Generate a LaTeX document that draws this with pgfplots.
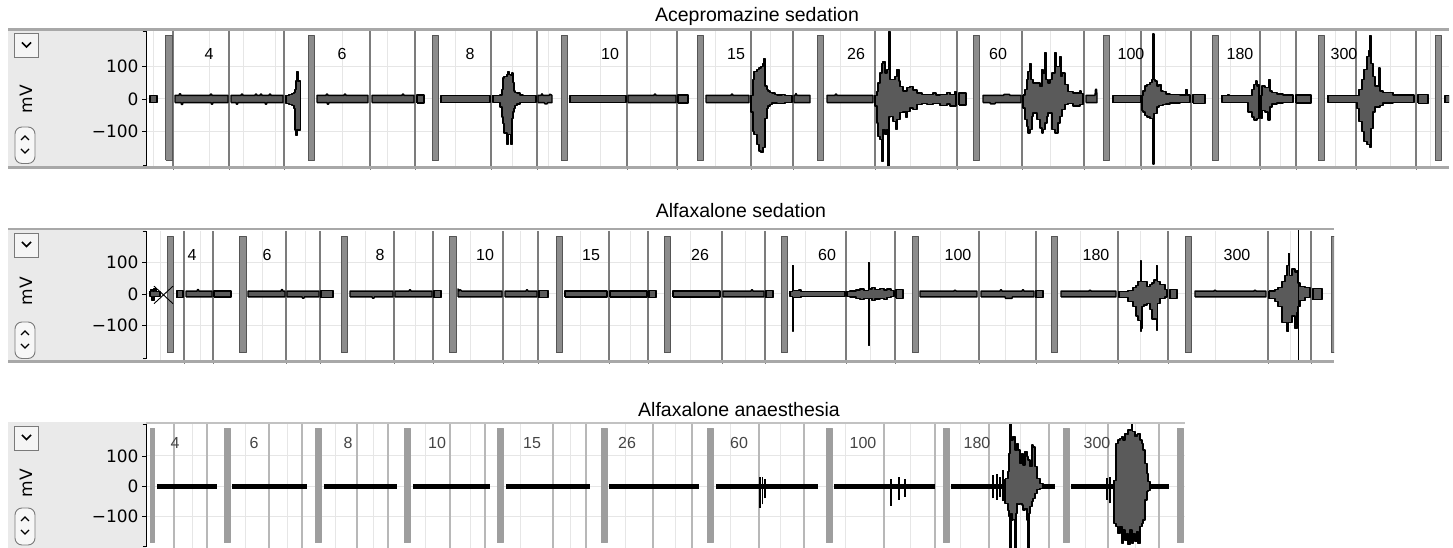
\documentclass[border=0pt]{standalone}
\usepackage{fontspec}
\setmainfont{Liberation Sans}
\newfontfamily\dejavu{DejaVu Sans}
\usepackage{pgfplots}
\pgfplotsset{compat=1.18}
\definecolor{boxgray}{HTML}{EAEAEA}
\definecolor{framegray}{HTML}{A8A8A8}
\definecolor{sepgray}{HTML}{7C7C7C}
\definecolor{sepgrayb}{HTML}{B8B8B8}
\definecolor{gridlight}{HTML}{E6E6E6}
\definecolor{bargray}{HTML}{8C8C8C}
\definecolor{bardark}{HTML}{555555}
\definecolor{barlight}{HTML}{9E9E9E}
\definecolor{tracefill}{HTML}{5A5A5A}
\definecolor{btnedge}{HTML}{7A7A7A}
\definecolor{labgray}{HTML}{444444}

\pgfplotsset{
  emg/.style={
    scale only axis, anchor=south west,
    axis line style={draw=none},
    tick align=outside, xtick pos=lower, ytick pos=left,
    major tick length=4pt,
    ytick={-100,0,100}, yticklabels={−100,0,100},
    yticklabel style={font=\dejavu\fontsize{17}{17}\selectfont, text=black},
    xticklabels={}, xtick style={draw=none},
    ytick style={black, line width=0.9pt},
    xmajorgrids=true, ymajorgrids=true,
    major grid style={gridlight, line width=1pt},
    extra x tick labels={},
    extra x tick style={grid=major, major grid style={sepgray, line width=1.3pt},
      xtick style={draw=sepgray, line width=1pt}},
    every axis plot/.append style={mark=none, line join=round},
    clip=true,
  },
  tr/.style={fill=tracefill, draw=black, line width=1.4pt},
  trs/.style={fill=tracefill, draw=black, line width=1.3pt, const plot},
  bar/.style={fill=bargray, draw=bardark, line width=0.8pt},
  barb/.style={fill=barlight, draw=barlight, line width=0.5pt},
  base3/.style={black, line width=4.6pt},
  spk/.style={black, line width=1.2pt},
}

\begin{document}
\begin{tikzpicture}[x=1pt,y=1pt]
\useasboundingbox (0,0) rectangle (1453,548);

% ---------- left control boxes (background) ----------
\begin{scope}[shift={(0,548)},yscale=-1]
  \fill[boxgray] (8,30.5) rectangle (146,166.5);
  \fill[boxgray] (8,230) rectangle (146,360.5);
  \fill[boxgray] (8,422) rectangle (146,548);
\end{scope}

% ================= Panel 1 : Acepromazine sedation =================
\begin{axis}[emg, at={(146pt,382pt)}, width=1303pt, height=135pt,
  xmin=146, xmax=1449, ymin=-206.2, ymax=209.2,
  xtick={153,209,243,275,342,387,455,512,548,600,650,715,770,840,910,940,1000,1050,1125,1165,1230,1280,1335,1390,1430},
  extra x ticks={173,229,284,370,415,491,537,627,677,751,793,875,957,1022,1084,1141,1191,1260,1296,1356,1416}]
% marker bars
\addplot[bar] coordinates {(165.5,-188)(172,-188)(172,195)(165.5,195)(165.5,-188)};
\addplot[bar] coordinates {(308,-188)(314,-188)(314,195)(308,195)(308,-188)};
\addplot[bar] coordinates {(432,-188)(438,-188)(438,195)(432,195)(432,-188)};
\addplot[bar] coordinates {(561,-188)(567.5,-188)(567.5,195)(561,195)(561,-188)};
\addplot[bar] coordinates {(697,-188)(703,-188)(703,195)(697,195)(697,-188)};
\addplot[bar] coordinates {(817,-188)(823,-188)(823,195)(817,195)(817,-188)};
\addplot[bar] coordinates {(973,-188)(979.5,-188)(979.5,195)(973,195)(973,-188)};
\addplot[bar] coordinates {(1103,-188)(1109.5,-188)(1109.5,195)(1103,195)(1103,-188)};
\addplot[bar] coordinates {(1212,-188)(1218,-188)(1218,195)(1212,195)(1212,-188)};
\addplot[bar] coordinates {(1318,-188)(1324.5,-188)(1324.5,195)(1318,195)(1318,-188)};
\addplot[bar] coordinates {(1435,-188)(1441.5,-188)(1441.5,195)(1435,195)(1435,-188)};
% traces
\addplot[tr] coordinates {(150,-11)(157,-11)(157,11)(150,11)(150,-11)};
\addplot[tr] coordinates {(175,-11)(181,-11)(181.5,-17)(182.5,-17)(183,-11)(211,-11)(211.5,-16)(212.5,-16)(213,-11)(228,-11)(228,11)(212,11)(211.5,15)(210.5,15)(210,11)(181,11)(180.5,16)(179.5,16)(179,11)(175,11)(175,-11)};
\addplot[tr] coordinates {(231,-11)(236,-11)(236.5,-16)(237.5,-16)(238,-11)(265,-11)(265.5,-16)(266.5,-16)(267,-11)(283,-11)(283,11)(271,11)(270.5,15)(269.5,15)(269,11)(262,11)(261.5,15)(260.5,15)(260,11)(257,11)(256.5,15)(255.5,15)(255,11)(243,11)(242.5,15)(241.5,15)(241,11)(231,11)(231,-11)};
\addplot[trs] coordinates {(286,11)(289,13)(292,16)(294,20)(295,30)(296,55)(297,84)(298,55)(300.5,55)(300.5,-95)(298,-95)(297,-113)(296,-95)(295,-30)(294,-20)(292,-16)(289,-13)(286,-11)(286,11)};
\addplot[tr] coordinates {(317,-11)(327,-11)(327.5,-16)(328.5,-16)(329,-11)(368,-11)(368,11)(346,11)(345.5,15)(344.5,15)(344,11)(328,11)(327.5,15)(326.5,15)(326,11)(317,11)(317,-11)};
\addplot[tr] coordinates {(372,-11)(414,-11)(414,11)(404,11)(403.5,15)(402.5,15)(402,11)(372,11)(372,-11)};
\addplot[tr] coordinates {(417,-12)(424,-12)(424,12)(417,12)(417,-12)};
\addplot[tr] coordinates {(441,-11)(490,-11)(490,11)(441,11)(441,-11)};
\addplot[trs] coordinates {(493,11)(500,12)(502,30)(503,65)(504,70)(507,75)(508,85)(509,75)(511,72)(512,80)(513,50)(514,25)(515,20)(517,18)(520,12)(523,11)(536,11)(536,-11)(523,-11)(520,-15)(517,-20)(515,-30)(514,-40)(513,-60)(512,-140)(511,-110)(509,-110)(508,-140)(507,-105)(504,-75)(503,-55)(502,-25)(500,-11)(493,-11)(493,11)};
\addplot[tr] coordinates {(538,-11)(544,-11)(545,-15)(547,-15)(548,-11)(552,-11)(552,11)(550,15)(549,11)(543,11)(542,16)(541,11)(538,11)(538,-11)};
\addplot[tr] coordinates {(570,-11)(626,-11)(626,11)(570,11)(570,-11)};
\addplot[tr] coordinates {(628,-11)(676,-11)(676,11)(656,11)(655.5,15)(654.5,15)(654,11)(628,11)(628,-11)};
\addplot[tr] coordinates {(678,-12)(688,-12)(688,12)(678,12)(678,-12)};
\addplot[tr] coordinates {(706,-11)(749,-11)(749,11)(733,11)(732.5,15)(731.5,15)(731,11)(706,11)(706,-11)};
\addplot[trs] coordinates {(751,11)(753,60)(754,85)(757,90)(759,95)(761,100)(763,110)(764,125)(765,40)(767,30)(768,25)(770,20)(772,18)(775,14)(777,12)(782,14)(785,11)(792,11)(792,-11)(785,-13)(777,-12)(772,-18)(770,-22)(768,-30)(767,-60)(765,-150)(763,-165)(761,-160)(759,-140)(757,-110)(754,-100)(753,-40)(751,-11)(751,11)};
\addplot[tr] coordinates {(794,-11)(810,-11)(810,11)(797,11)(796,17)(795,11)(794,11)(794,-11)};
\addplot[tr] coordinates {(827,-11)(873,-11)(873,11)(837,11)(836.5,15)(835.5,15)(835,11)(827,11)(827,-11)};
\addplot[trs] coordinates {(875,11)(877,24)(878,49)(880,80)(882,110)(883,116)(885,80)(887,90)(889,208)(890,60)(893,60)(895,70)(897,90)(899,55)(900,39)(903,25)(907,35)(910,39)(913,28)(917,18)(922,13)(927,13)(933,18)(936,12)(940,13)(947,20)(950,14)(955,23)(956,23)(956,-22)(950,-15)(947,-20)(940,-14)(933,-17)(927,-14)(922,-17)(917,-33)(913,-28)(910,-38)(907,-58)(906,-40)(903,-42)(900,-64)(897,-94)(896,-70)(893,-53)(890,-55)(889,-207)(888,-94)(887,-110)(885,-94)(883,-192)(882,-125)(880,-115)(878,-74)(877,-22)(875,-11)(875,11)};
\addplot[tr] coordinates {(959,-18)(966,-18)(966,18)(959,18)(959,-18)};
\addplot[tr] coordinates {(983,-11)(990,-11)(990.5,-15)(995,-15)(995.5,-11)(1021,-11)(1021,11)(1010,11)(1009.5,14)(1004,14)(1003.5,11)(983,11)(983,-11)};
\addplot[trs] coordinates {(1023,12)(1025,29)(1027,60)(1028,85)(1030,110)(1031,60)(1033,49)(1037,49)(1040,39)(1042,90)(1043,80)(1045,142)(1046,60)(1047,60)(1048,49)(1050,60)(1052,80)(1055,142)(1056,100)(1058,100)(1060,131)(1061,70)(1062,80)(1065,45)(1068,24)(1073,18)(1080,25)(1081,16)(1083,16)(1083,-16)(1080,-22)(1073,-14)(1068,-17)(1065,-33)(1062,-53)(1060,-74)(1058,-105)(1055,-94)(1052,-43)(1048,-53)(1047,-74)(1045,-94)(1043,-105)(1042,-89)(1040,-64)(1037,-43)(1033,-53)(1032,-94)(1030,-105)(1028,-84)(1027,-64)(1025,-28)(1023,-12)(1023,12)};
\addplot[tr] coordinates {(1086,-11)(1097,-11)(1097,11)(1096.5,30)(1095.5,30)(1095,11)(1086,11)(1086,-11)};
\addplot[tr] coordinates {(1113,-11)(1141,-11)(1141,11)(1113,11)(1113,-11)};
\addplot[trs] coordinates {(1142,11)(1143,25)(1145,40)(1147,45)(1150,50)(1152,60)(1153,200)(1154,60)(1155,55)(1157,40)(1159,45)(1161,25)(1163,22)(1166,15)(1170,13)(1180,12)(1186,30)(1187,12)(1190,11)(1190,-11)(1180,-12)(1170,-15)(1166,-18)(1163,-20)(1159,-25)(1157,-45)(1155,-45)(1154,-200)(1153,-60)(1152,-60)(1150,-55)(1147,-50)(1145,-40)(1143,-35)(1142,-11)(1142,11)};
\addplot[tr] coordinates {(1193,-13)(1205,-13)(1205,13)(1193,13)(1193,-13)};
\addplot[trs] coordinates {(1222,11)(1228,14)(1229,11)(1248,11)(1252,30)(1254,45)(1256,55)(1257,40)(1258,45)(1259,45)(1259,-60)(1258,-60)(1257,-65)(1256,-65)(1254,-55)(1252,-40)(1248,-11)(1222,-11)(1222,11)};
\addplot[trs] coordinates {(1261,11)(1262,40)(1265,35)(1268,35)(1269,60)(1270,25)(1272,20)(1277,15)(1283,12)(1293,11)(1293,-11)(1283,-12)(1277,-15)(1272,-25)(1270,-65)(1268,-40)(1265,-35)(1262,-60)(1261,-11)(1261,11)};
\addplot[tr] coordinates {(1296,-12)(1311,-12)(1311,12)(1296,12)(1296,-12)};
\addplot[trs] coordinates {(1328,11)(1357,11)(1359,30)(1362,60)(1364,90)(1367,130)(1369,150)(1370,195)(1371,110)(1373,70)(1375,40)(1379,95)(1380,25)(1383,20)(1393,12)(1414,11)(1414,-11)(1393,-12)(1383,-20)(1380,-25)(1375,-40)(1373,-90)(1371,-150)(1370,-140)(1369,-140)(1367,-130)(1364,-100)(1362,-70)(1359,-30)(1357,-11)(1328,-11)(1328,11)};
\addplot[tr] coordinates {(1418,-13)(1428,-13)(1428,13)(1418,13)(1418,-13)};
\addplot[tr] coordinates {(1445,-11)(1450,-11)(1450,11)(1445,11)(1445,-11)};
% block labels
\node[font=\fontsize{16}{16}\selectfont, inner sep=0pt] at (axis cs:209,138) {4};
\node[font=\fontsize{16}{16}\selectfont, inner sep=0pt] at (axis cs:342,138) {6};
\node[font=\fontsize{16}{16}\selectfont, inner sep=0pt] at (axis cs:470,138) {8};
\node[font=\fontsize{16}{16}\selectfont, inner sep=0pt] at (axis cs:610,138) {10};
\node[font=\fontsize{16}{16}\selectfont, inner sep=0pt] at (axis cs:736,138) {15};
\node[font=\fontsize{16}{16}\selectfont, inner sep=0pt] at (axis cs:856,138) {26};
\node[font=\fontsize{16}{16}\selectfont, inner sep=0pt] at (axis cs:998,138) {60};
\node[font=\fontsize{16}{16}\selectfont, inner sep=0pt] at (axis cs:1131,138) {100};
\node[font=\fontsize{16}{16}\selectfont, inner sep=0pt] at (axis cs:1240,138) {180};
\node[font=\fontsize{16}{16}\selectfont, inner sep=0pt] at (axis cs:1344,138) {300};
\end{axis}

% ================= Panel 2 : Alfaxalone sedation =================
\begin{axis}[emg, at={(146pt,188pt)}, width=1188pt, height=129pt,
  xmin=146, xmax=1334, ymin=-210.9, ymax=201.3,
  xtick={160,200,262,305,365,415,470,520,580,630,690,745,805,870,940,1005,1080,1140,1215,1290},
  extra x ticks={184,213,286,320,394,433,503,538,609,648,722,765,846,895,979,1036,1118,1168,1268,1311}]
\addplot[bar] coordinates {(167,-187)(173,-187)(173,184)(167,184)(167,-187)};
\addplot[bar] coordinates {(239.5,-187)(246,-187)(246,184)(239.5,184)(239.5,-187)};
\addplot[bar] coordinates {(341,-187)(347,-187)(347,184)(341,184)(341,-187)};
\addplot[bar] coordinates {(449.5,-187)(456,-187)(456,184)(449.5,184)(449.5,-187)};
\addplot[bar] coordinates {(556,-187)(562,-187)(562,184)(556,184)(556,-187)};
\addplot[bar] coordinates {(664,-187)(670,-187)(670,184)(664,184)(664,-187)};
\addplot[bar] coordinates {(781.5,-187)(787.5,-187)(787.5,184)(781.5,184)(781.5,-187)};
\addplot[bar] coordinates {(912.5,-187)(918.5,-187)(918.5,184)(912.5,184)(912.5,-187)};
\addplot[bar] coordinates {(1051.5,-187)(1057.5,-187)(1057.5,184)(1051.5,184)(1051.5,-187)};
\addplot[bar] coordinates {(1185,-187)(1191,-187)(1191,184)(1185,184)(1185,-187)};
\addplot[bar] coordinates {(1331,-187)(1337,-187)(1337,184)(1331,184)(1331,-187)};
% traces
\addplot[trs] coordinates {(150,9)(151,15)(153,9)(154,18)(156,9)(160,9)(160,-9)(156,-9)(154,-20)(152,-9)(150,-9)(150,9)};
\addplot[black, line width=0.9pt] coordinates {(154,25)(173,-31)};
\addplot[black, line width=0.9pt] coordinates {(154,-31)(173,25)};
\addplot[tr] coordinates {(177,-12)(183,-12)(183,12)(177,12)(177,-12)};
\addplot[tr] coordinates {(186,-9)(212,-9)(212,9)(199,9)(198.5,14)(197.5,14)(197,9)(186,9)(186,-9)};
\addplot[tr] coordinates {(214,-9)(231,-9)(231,9)(214,9)(214,-9)};
\addplot[tr] coordinates {(248,-9)(285,-9)(285,9)(283,9)(282.5,14)(281.5,14)(281,9)(248,9)(248,-9)};
\addplot[tr] coordinates {(287,-9)(302,-9)(302.5,-13)(304,-13)(304.5,-9)(319,-9)(319,9)(287,9)(287,-9)};
\addplot[tr] coordinates {(321,-12)(333,-12)(333,12)(321,12)(321,-12)};
\addplot[tr] coordinates {(350,-9)(372,-9)(372.5,-13)(374,-13)(374.5,-9)(393,-9)(393,9)(350,9)(350,-9)};
\addplot[tr] coordinates {(395,-9)(432,-9)(432,9)(411,9)(410.5,13)(409.5,13)(409,9)(395,9)(395,-9)};
\addplot[tr] coordinates {(434,-12)(441,-12)(441,12)(434,12)(434,-12)};
\addplot[tr] coordinates {(458,-9)(502,-9)(502,9)(462,9)(460,14)(459,10)(458,16)(458,-9)};
\addplot[tr] coordinates {(505,-9)(537,-9)(537,9)(528,9)(527.5,13)(526.5,13)(526,9)(505,9)(505,-9)};
\addplot[tr] coordinates {(539,-12)(548,-12)(548,12)(539,12)(539,-12)};
\addplot[tr] coordinates {(565,-9)(607,-9)(607,9)(565,9)(565,-9)};
\addplot[tr] coordinates {(610,-9)(647,-9)(647,9)(610,9)(610,-9)};
\addplot[tr] coordinates {(649,-12)(656,-12)(656,12)(649,12)(649,-12)};
\addplot[tr] coordinates {(673,-9)(720,-9)(720,9)(673,9)(673,-9)};
\addplot[tr] coordinates {(723,-9)(764,-9)(764,9)(753,9)(752.5,13)(751.5,13)(751,9)(723,9)(723,-9)};
\addplot[tr] coordinates {(766,-12)(773,-12)(773,12)(766,12)(766,-12)};
\addplot[trs] coordinates {(790,9)(792.5,92)(793.5,12)(799,13)(801,9)(845,9)(845,-9)(801,-12)(793.5,-118)(792.5,-9)(790,-9)(790,9)};
\addplot[trs] coordinates {(847,9)(850,10)(856,13)(860,16)(864,12)(868.5,100)(869.5,16)(872,20)(875,14)(880,18)(884,13)(887,16)(891,11)(894,9)(894,-9)(891,-12)(887,-18)(884,-14)(880,-16)(875,-20)(872,-15)(869.5,-165)(868.5,-15)(864,-18)(860,-14)(856,-10)(850,-9)(847,-9)(847,9)};
\addplot[tr] coordinates {(896,-14)(903,-14)(903,14)(896,14)(896,-14)};
\addplot[tr] coordinates {(920,-9)(977,-9)(977,9)(956,9)(955.5,12)(954.5,12)(954,9)(920,9)(920,-9)};
\addplot[tr] coordinates {(981,-9)(1005,-9)(1005.5,-14)(1012,-14)(1012.5,-9)(1034,-9)(1034,9)(1024,9)(1023.5,13)(1022.5,13)(1022,9)(1002,9)(1001.5,13)(1000.5,13)(1000,9)(981,9)(981,-9)};
\addplot[tr] coordinates {(1036,-12)(1043,-12)(1043,12)(1036,12)(1036,-12)};
\addplot[tr] coordinates {(1061,-9)(1116,-9)(1116,9)(1091,9)(1090.5,12)(1089.5,12)(1089,9)(1061,9)(1061,-9)};
\addplot[trs] coordinates {(1119,9)(1128,12)(1133,20)(1136,28)(1138,40)(1140.5,105)(1141.5,40)(1144,40)(1147,25)(1150,30)(1152,35)(1154,45)(1156.5,90)(1157.5,40)(1160,30)(1165,15)(1167,10)(1167,-10)(1165,-15)(1160,-30)(1157.5,-115)(1156.5,-80)(1154,-80)(1152,-50)(1150,-30)(1147,-35)(1144,-40)(1142,-110)(1141.5,-118)(1140.5,-85)(1138,-70)(1136,-40)(1133,-25)(1128,-12)(1119,-9)(1119,9)};
\addplot[tr] coordinates {(1170,-15)(1177,-15)(1177,15)(1170,15)(1170,-15)};
\addplot[tr] coordinates {(1195,-9)(1266,-9)(1266,9)(1256,9)(1255.5,12)(1254.5,12)(1254,9)(1216,9)(1215.5,12)(1214.5,12)(1214,9)(1195,9)(1195,-9)};
\addplot[trs] coordinates {(1269,10)(1275,15)(1278,20)(1282,40)(1285,60)(1287,90)(1288.5,130)(1289.5,60)(1292,80)(1295,70)(1297,75)(1298,35)(1300,25)(1305,20)(1310,12)(1310,-12)(1305,-20)(1300,-40)(1298,-60)(1297,-110)(1295,-70)(1292,-90)(1289.5,-90)(1288.5,-120)(1287,-90)(1285,-90)(1282,-40)(1278,-25)(1275,-15)(1269,-10)(1269,10)};
\addplot[black, line width=1.1pt] coordinates {(1298.5,-215)(1298.5,215)};
\addplot[tr] coordinates {(1313,-18)(1322,-18)(1322,18)(1313,18)(1313,-18)};
% block labels
\node[font=\fontsize{16}{16}\selectfont, inner sep=0pt] at (axis cs:192,125) {4};
\node[font=\fontsize{16}{16}\selectfont, inner sep=0pt] at (axis cs:267,125) {6};
\node[font=\fontsize{16}{16}\selectfont, inner sep=0pt] at (axis cs:380,125) {8};
\node[font=\fontsize{16}{16}\selectfont, inner sep=0pt] at (axis cs:485,125) {10};
\node[font=\fontsize{16}{16}\selectfont, inner sep=0pt] at (axis cs:591,125) {15};
\node[font=\fontsize{16}{16}\selectfont, inner sep=0pt] at (axis cs:700,125) {26};
\node[font=\fontsize{16}{16}\selectfont, inner sep=0pt] at (axis cs:827,125) {60};
\node[font=\fontsize{16}{16}\selectfont, inner sep=0pt] at (axis cs:958,125) {100};
\node[font=\fontsize{16}{16}\selectfont, inner sep=0pt] at (axis cs:1096,125) {180};
\node[font=\fontsize{16}{16}\selectfont, inner sep=0pt] at (axis cs:1237,125) {300};
\end{axis}

% ================= Panel 3 : Alfaxalone anaesthesia =================
\begin{axis}[emg, at={(146pt,0pt)}, width=1039pt, height=124pt,
  xmin=146, xmax=1185, ymin=-203.6, ymax=205.6,
  xtick={192,245,287,335,373,425,470,520,570,625,675,730,780,845,910,960,1020,1085,1135},
  extra x ticks={174,207,269,302,357,388,450,485,553,586,653,692,759,804,884,935,989,1049,1108,1159},
  extra x tick style={grid=major, major grid style={sepgrayb, line width=1.8pt},
      xtick style={draw=none}}]
\addplot[barb] coordinates {(150,-183)(154.5,-183)(154.5,192)(150,192)(150,-183)};
\addplot[barb] coordinates {(224,-183)(230,-183)(230,192)(224,192)(224,-183)};
\addplot[barb] coordinates {(315,-183)(321,-183)(321,192)(315,192)(315,-183)};
\addplot[barb] coordinates {(404,-183)(410,-183)(410,192)(404,192)(404,-183)};
\addplot[barb] coordinates {(497,-183)(503,-183)(503,192)(497,192)(497,-183)};
\addplot[barb] coordinates {(601,-183)(607,-183)(607,192)(601,192)(601,-183)};
\addplot[barb] coordinates {(707,-183)(713,-183)(713,192)(707,192)(707,-183)};
\addplot[barb] coordinates {(826,-183)(832,-183)(832,192)(826,192)(826,-183)};
\addplot[barb] coordinates {(943,-183)(949,-183)(949,192)(943,192)(943,-183)};
\addplot[barb] coordinates {(1063,-183)(1069,-183)(1069,192)(1063,192)(1063,-183)};
\addplot[barb] coordinates {(1177,-183)(1183,-183)(1183,192)(1177,192)(1177,-183)};
% baselines
\addplot[base3] coordinates {(157,0)(217,0)};
\addplot[base3] coordinates {(232,0)(307,0)};
\addplot[base3] coordinates {(324,0)(397,0)};
\addplot[base3] coordinates {(413,0)(490,0)};
\addplot[base3] coordinates {(506,0)(590,0)};
\addplot[base3] coordinates {(609,0)(699,0)};
\addplot[base3] coordinates {(716,0)(818,0)};
\addplot[base3] coordinates {(834,0)(935,0)};
\addplot[base3] coordinates {(951,0)(1055,0)};
\addplot[base3] coordinates {(1071,0)(1169,0)};
% spikes
\addplot[spk] coordinates {(760,-70)(760,30)};
\addplot[spk] coordinates {(762.5,-60)(762.5,30)};
\addplot[spk] coordinates {(765,-40)(765,25)};
\addplot[spk] coordinates {(891,-65)(891,25)};
\addplot[spk] coordinates {(899,-45)(899,30)};
\addplot[spk] coordinates {(905,-35)(905,25)};
\addplot[spk] coordinates {(993,-40)(993,37)};
\addplot[spk] coordinates {(997,-44)(997,40)};
\addplot[spk] coordinates {(1000,-34)(1000,32)};
\addplot[spk] coordinates {(1003,-50)(1003,54)};
\addplot[spk] coordinates {(1107,-45)(1107,26)};
\addplot[spk] coordinates {(1110,-56)(1110,32)};
% bursts
\addplot[trs] coordinates {(1005,25)(1008,48)(1009,109)(1010,208)(1011,153)(1013,164)(1015,120)(1017,142)(1018,120)(1020,76)(1022,109)(1023,70)(1025,114)(1027,98)(1028,87)(1030,65)(1032,136)(1033,130)(1035,65)(1037,26)(1040,10)(1043,8)(1043,-8)(1040,-10)(1037,-23)(1035,-40)(1033,-50)(1032,-67)(1030,-89)(1029,-210)(1028,-111)(1027,-73)(1025,-78)(1023,-62)(1022,-56)(1020,-61)(1018,-56)(1017,-89)(1016,-210)(1015,-110)(1013,-111)(1012,-89)(1011,-210)(1010,-100)(1009,-80)(1008,-56)(1005,-25)(1005,25)};
\addplot[trs] coordinates {(1114,20)(1116,142)(1118,153)(1120,158)(1122,164)(1123,153)(1125,175)(1127,170)(1128,186)(1130,186)(1131.5,208)(1132.5,180)(1133,180)(1135,164)(1137,170)(1138,175)(1140,153)(1142,142)(1143,120)(1145,76)(1147,43)(1148,15)(1150,15)(1150,-15)(1148,-18)(1147,-45)(1145,-111)(1143,-122)(1142,-133)(1140,-188)(1138,-150)(1137,-183)(1135,-155)(1133,-188)(1132,-144)(1130,-193)(1128,-155)(1127,-178)(1125,-144)(1123,-188)(1122,-133)(1120,-155)(1118,-133)(1116,-122)(1114,-20)(1114,20)};
% block labels
\node[font=\fontsize{16}{16}\selectfont, inner sep=0pt, text=labgray] at (axis cs:175,143) {4};
\node[font=\fontsize{16}{16}\selectfont, inner sep=0pt, text=labgray] at (axis cs:254,143) {6};
\node[font=\fontsize{16}{16}\selectfont, inner sep=0pt, text=labgray] at (axis cs:348,143) {8};
\node[font=\fontsize{16}{16}\selectfont, inner sep=0pt, text=labgray] at (axis cs:437,143) {10};
\node[font=\fontsize{16}{16}\selectfont, inner sep=0pt, text=labgray] at (axis cs:532,143) {15};
\node[font=\fontsize{16}{16}\selectfont, inner sep=0pt, text=labgray] at (axis cs:627,143) {26};
\node[font=\fontsize{16}{16}\selectfont, inner sep=0pt, text=labgray] at (axis cs:739,143) {60};
\node[font=\fontsize{16}{16}\selectfont, inner sep=0pt, text=labgray] at (axis cs:863,143) {100};
\node[font=\fontsize{16}{16}\selectfont, inner sep=0pt, text=labgray] at (axis cs:977,143) {180};
\node[font=\fontsize{16}{16}\selectfont, inner sep=0pt, text=labgray] at (axis cs:1097,143) {300};
\end{axis}

% ---------- frames, brackets and buttons (foreground) ----------
\begin{scope}[shift={(0,548)},yscale=-1]
  \draw[framegray, line width=2.5pt] (8,29.5) -- (1449,29.5);
  \draw[framegray, line width=2.5pt] (8,167.5) -- (1449,167.5);
  \draw[framegray, line width=2.5pt] (8,229) -- (1334,229);
  \draw[framegray, line width=2.5pt] (8,361.5) -- (1334,361.5);
  \draw[framegray!70, line width=2pt] (146,423) -- (1185,423);
  \draw[black, line width=1pt] (142.5,32) -- (146,32) -- (146,166) -- (142.5,166);
  \draw[black, line width=1pt] (142.5,232) -- (146,232) -- (146,359) -- (142.5,359);
  \draw[black, line width=1pt] (142.5,425) -- (146,425) -- (146,547) -- (142.5,547);
  % panel 1 buttons
  \draw[btnedge, fill=white!96!black, line width=0.9pt] (14.5,33.5) rectangle (38.5,57.5);
  \draw[black, line width=1.7pt] (22,42.5) -- (26.5,47) -- (31,42.5);
  \draw[btnedge, fill=white!97!black, line width=0.9pt, rounded corners=7pt] (15,127) rectangle (35,163.5);
  \draw[black, line width=1.4pt] (21,140) -- (25,136) -- (29,140);
  \draw[black, line width=1.4pt] (21,149) -- (25,153) -- (29,149);
  % panel 2 buttons
  \draw[btnedge, fill=white!96!black, line width=0.9pt] (14,233) rectangle (38.5,257.5);
  \draw[black, line width=1.7pt] (22,242) -- (26.5,246.5) -- (31,242);
  \draw[btnedge, fill=white!97!black, line width=0.9pt, rounded corners=7pt] (15,322) rectangle (35,358.5);
  \draw[black, line width=1.4pt] (21,335) -- (25,331) -- (29,335);
  \draw[black, line width=1.4pt] (21,344) -- (25,348) -- (29,344);
  % panel 3 buttons
  \draw[btnedge, fill=white!96!black, line width=0.9pt] (14,426) rectangle (38.5,450.5);
  \draw[black, line width=1.7pt] (22,435) -- (26.5,439.5) -- (31,435);
  \draw[btnedge, fill=white!97!black, line width=0.9pt, rounded corners=7pt] (15,508) rectangle (35,545);
  \draw[black, line width=1.4pt] (21,521) -- (25,517) -- (29,521);
  \draw[black, line width=1.4pt] (21,530) -- (25,534) -- (29,530);
\end{scope}

% unit labels and titles
\node[rotate=90, font=\dejavu\fontsize{17}{17}\selectfont, inner sep=0pt] at (26,449) {mV};
\node[rotate=90, font=\dejavu\fontsize{17}{17}\selectfont, inner sep=0pt] at (26,257) {mV};
\node[rotate=90, font=\dejavu\fontsize{17}{17}\selectfont, inner sep=0pt] at (26,65) {mV};
\node[anchor=base, font=\fontsize{19.5}{20}\selectfont, inner sep=0pt] at (757,526) {Acepromazine sedation};
\node[anchor=base, font=\fontsize{19.5}{20}\selectfont, inner sep=0pt] at (741,330) {Alfaxalone sedation};
\node[anchor=base, font=\fontsize{19.5}{20}\selectfont, inner sep=0pt] at (739,131) {Alfaxalone anaesthesia};
\end{tikzpicture}
\end{document}
